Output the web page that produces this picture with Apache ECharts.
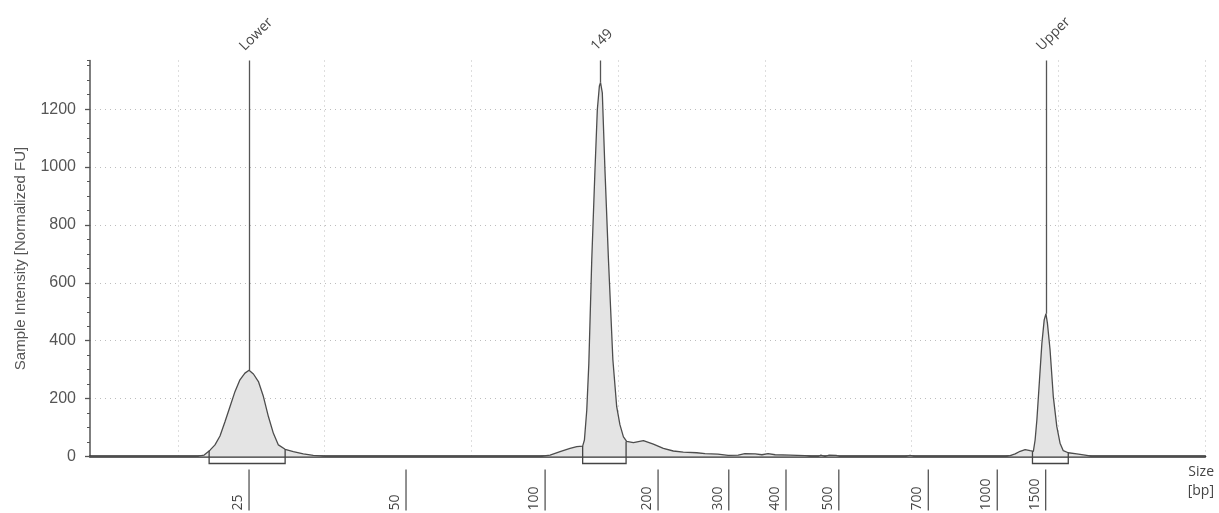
<!DOCTYPE html>
<html>
<head>
<meta charset="utf-8">
<script src="https://cdn.jsdelivr.net/npm/echarts@6/dist/echarts.min.js"></script>
<style>
html,body{margin:0;padding:0;background:#fff;}
#chart{width:1219px;height:513px;}
</style>
</head>
<body>
<div id="chart"></div>
<script>
// ---- data (x = migration time units, y = normalized FU) ----
const times = [17.00, 20.58, 20.69, 20.89, 21.09, 21.26, 21.43, 21.60, 21.77, 21.94,
  22.11, 22.28, 22.42, 22.57, 22.74, 22.91, 23.08, 23.25, 23.42, 23.65,
  23.93, 24.27, 24.61, 24.95, 25.18,
  32.34, 32.68, 33.02, 33.36, 33.59, 33.79, 33.85, 33.93, 34.00, 34.10,
  34.21, 34.29, 34.36, 34.40, 34.46, 34.55, 34.67, 34.82, 34.95, 35.06,
  35.18, 35.29, 35.52, 35.86, 36.20, 36.54, 36.88, 37.22, 37.68, 37.96,
  38.40, 38.75, 39.09, 39.32, 39.67, 39.90, 40.11, 40.35, 40.86, 41.37,
  41.61, 41.81, 41.91, 42.05, 42.19, 42.43, 42.56, 44.78, 44.95, 45.12,
  48.19, 48.36, 48.53, 48.70, 48.87, 49.04, 49.15, 49.21, 49.27, 49.36,
  49.44, 49.52, 49.58, 49.63, 49.72, 49.83, 49.95, 50.06, 50.17, 50.34,
  50.63, 50.97, 51.15, 55.00];
const intensity = [0, 0, 1, 5, 22, 40, 71, 120, 172, 224,
  265, 288, 298, 285, 259, 207, 138, 80, 40, 25,
  17, 9, 4, 1, 0,
  0, 5, 17, 28, 34, 36, 57, 160, 320, 679,
  990, 1198, 1280, 1292, 1256, 990, 679, 334, 172, 110,
  68, 52, 48, 55, 43, 28, 19, 15, 13, 10,
  8, 4, 5, 10, 9, 6, 10, 6, 5, 3,
  0, 0, 5, 0, 5, 4, 0, 0, 4, 0,
  0, 3, 9, 18, 24, 20, 18, 57, 126, 265,
  390, 472, 493, 460, 368, 207, 103, 46, 20, 13,
  9, 4, 0, 0];

const peakNames = ["Lower", "149", "Upper"];
const peakTimes = [22.42, 34.40, 49.58];
const peakHeights = [298, 1292, 493];

const regionStart = [21.06, 33.79, 49.12];
const regionEnd = [23.65, 35.27, 50.34];
const regionStartH = [20, 36, 18];
const regionEndH = [25, 52, 13];

const ladderSizes = ["25", "50", "100", "200", "300", "400", "500", "700", "1000", "1500"];
const ladderTimes = [22.42, 27.77, 32.51, 36.36, 38.77, 40.72, 42.52, 45.57, 47.92, 49.57];

const gridTimes = [20, 25, 30, 35, 40, 45, 50, 55];
const yTicks = [0, 200, 400, 600, 800, 1000, 1200];

const xMin = 17, xMax = 55, yMax = 1368;

// ---- chart ----
const chart = echarts.init(document.getElementById('chart'), null, {renderer: 'canvas'});
const traceData = times.map((t, i) => [t, intensity[i]]);
const peakLabelData = peakTimes.map((t, i) => [t, yMax, i]);
const regionData = regionStart.map((s, i) => [s, regionEnd[i], regionStartH[i], regionEndH[i]]);
const ladderData = ladderTimes.map((t, i) => [t, 0, i]);

const numFont = '"Liberation Sans", Arial, sans-serif';
const uiFont = '"Open Sans", "Noto Sans", sans-serif';

chart.setOption({
  animation: false,
  backgroundColor: '#fff',
  grid: {left: 90, right: 14, top: 60.5, bottom: 56.5, containLabel: false},
  xAxis: {
    type: 'value', min: xMin, max: xMax,
    axisLine: {show: true, onZero: false, lineStyle: {color: '#333', width: 2.5}},
    axisTick: {show: false, customValues: gridTimes},
    axisLabel: {show: false, customValues: gridTimes},
    splitLine: {show: true, lineStyle: {color: '#bdbdbd', type: [1, 4], width: 1}}
  },
  yAxis: [
    {
      type: 'value', min: 0, max: yMax,
      name: 'Sample Intensity [Normalized FU]', nameLocation: 'middle', nameGap: 62,
      nameTextStyle: {fontFamily: numFont, fontSize: 15, color: '#555'},
      axisLine: {show: true, lineStyle: {color: '#555', width: 1.5}},
      axisTick: {show: true, customValues: yTicks, length: 5, lineStyle: {color: '#555', width: 1.3}},
      axisLabel: {show: true, customValues: yTicks, margin: 14, fontFamily: numFont, fontSize: 16, color: '#555',
        formatter: v => String(v)},
      splitLine: {show: true, lineStyle: {color: '#bdbdbd', type: [1, 4], width: 1}}
    },
    {
      type: 'value', min: 0, max: yMax, interval: 50, position: 'left',
      axisLine: {show: false},
      axisTick: {show: true, length: 3, lineStyle: {color: '#555', width: 1}},
      axisLabel: {show: false},
      splitLine: {show: false}
    }
  ],
  series: [
    {
      type: 'line', xAxisIndex: 0, yAxisIndex: 0,
      data: traceData, showSymbol: false, symbol: 'none', smooth: false,
      lineStyle: {color: '#4d4d4d', width: 1.3},
      areaStyle: {color: '#e4e4e4', opacity: 1},
      z: 2,
      markLine: {
        silent: true, symbol: ['none', 'none'],
        label: {show: false},
        lineStyle: {color: '#555', width: 1.3, type: 'solid'},
        data: peakTimes.map((t, i) => [{coord: [t, yMax]}, {coord: [t, peakHeights[i]]}])
      }
    },
    {
      type: 'custom', xAxisIndex: 0, yAxisIndex: 0, clip: false, silent: true, z: 5,
      data: regionData,
      encode: {x: [0, 1], y: [2, 3]},
      renderItem: function (params, api) {
        const s = api.value(0), e = api.value(1);
        const p0 = api.coord([s, 0]), p1 = api.coord([e, 0]);
        const ps = api.coord([s, api.value(2)]), pe = api.coord([e, api.value(3)]);
        const low = p0[1] + 7;
        return {
          type: 'polyline',
          shape: {points: [[p0[0], ps[1]], [p0[0], low], [p1[0], low], [p1[0], pe[1]]]},
          style: {stroke: '#444', lineWidth: 1.3, fill: null}
        };
      }
    },
    {
      type: 'custom', xAxisIndex: 0, yAxisIndex: 0, clip: false, silent: true, z: 5,
      data: ladderData,
      encode: {x: 0, y: 1},
      renderItem: function (params, api) {
        const p = api.coord([api.value(0), api.value(1)]);
        const top = p[1] + 13, bot = p[1] + 54;
        return {
          type: 'group',
          children: [
            {type: 'line', shape: {x1: p[0], y1: top, x2: p[0], y2: bot},
              style: {stroke: '#555', lineWidth: 1.3}},
            {type: 'text', x: p[0] - 4, y: bot, rotation: Math.PI / 2,
              style: {text: ladderSizes[api.value(2)], fill: '#444', font: '14px ' + uiFont,
                align: 'left', verticalAlign: 'bottom'}}
          ]
        };
      }
    },
    {
      type: 'custom', xAxisIndex: 0, yAxisIndex: 0, clip: false, silent: true, z: 5,
      data: peakLabelData,
      encode: {x: 0, y: 1},
      renderItem: function (params, api) {
        const p = api.coord([api.value(0), api.value(1)]);
        return {
          type: 'text',
          x: p[0] - 7, y: p[1] - 12,
          rotation: Math.PI / 4,
          style: {text: peakNames[api.value(2)], fill: '#444', font: '14px ' + uiFont, align: 'left', verticalAlign: 'middle'}
        };
      }
    }
  ],
  graphic: [
    {type: 'text', right: 5, top: 465, style: {text: 'Size', fill: '#444', font: '14px ' + uiFont}},
    {type: 'text', right: 5, top: 484, style: {text: '[bp]', fill: '#444', font: '14px ' + uiFont}}
  ]
});
</script>
</body>
</html>
